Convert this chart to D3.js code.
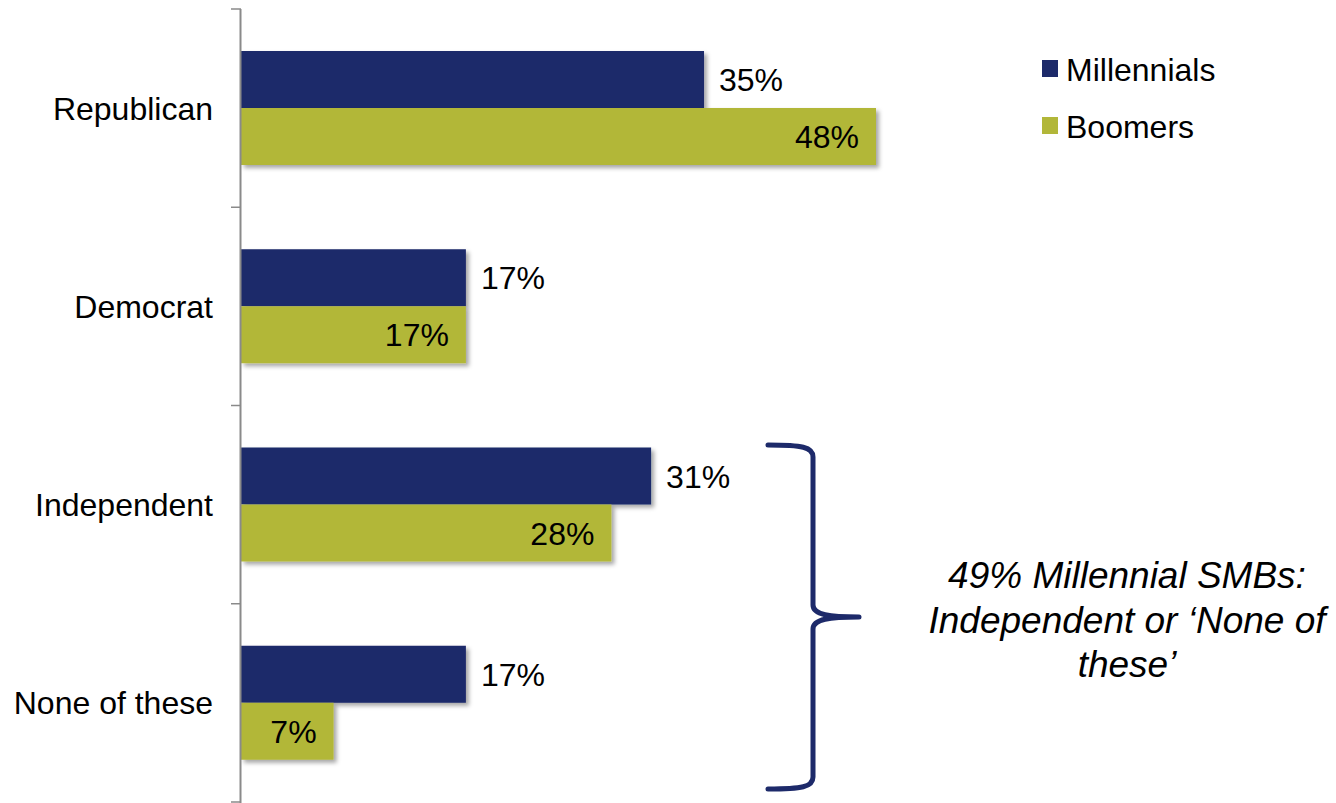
<!DOCTYPE html>
<html>
<head>
<meta charset="utf-8">
<script src="https://cdn.jsdelivr.net/npm/d3@7"></script>
<style>
  html, body { margin: 0; padding: 0; background: #fff; }
  svg { display: block; }
  text { font-family: "Liberation Sans", Arial, sans-serif; fill: #000; }
</style>
</head>
<body>
<svg id="chart" width="1336" height="803"></svg>
<script>
// Party affiliation of small-business owners, by generation
const categories = ["Republican", "Democrat", "Independent", "None of these"];
const seriesNames = ["Millennials", "Boomers"];
const millennials = [35, 17, 31, 17];
const boomers = [48, 17, 28, 7];
const colors = ["#1d2a6a", "#b2b739"];
const noteLines = ["49% Millennial SMBs:", "Independent or \u2018None of", "these\u2019"];

const svg = d3.select("#chart");
const W = 1336, H = 803;

const axisX = 241;
const x = d3.scaleLinear().domain([0, 48]).range([axisX, 876]);
const y = d3.scaleBand().domain(categories).range([9, 802]).padding(0);
const inner = d3.scaleBand().domain(seriesNames)
  .range([42, 42 + 114]).padding(0);

// soft drop shadow under the bars
const defs = svg.append("defs");
const f = defs.append("filter").attr("id", "shadow")
  .attr("x", "-5%").attr("y", "-20%").attr("width", "115%").attr("height", "160%");
f.append("feDropShadow").attr("dx", 3).attr("dy", 3)
  .attr("stdDeviation", 2.2).attr("flood-color", "#000").attr("flood-opacity", 0.35);

const rows = categories.map((c, i) => ({
  cat: c,
  vals: [
    { s: seriesNames[0], v: millennials[i] },
    { s: seriesNames[1], v: boomers[i] }
  ]
}));

const g = svg.append("g");
const groups = g.selectAll("g.cat").data(rows).join("g")
  .attr("class", "cat")
  .attr("transform", d => `translate(0,${y(d.cat)})`);

groups.selectAll("rect").data(d => d.vals).join("rect")
  .attr("x", axisX)
  .attr("y", d => inner(d.s))
  .attr("width", d => x(d.v) - axisX)
  .attr("height", inner.bandwidth())
  .attr("fill", (d, i) => colors[i])
  .attr("filter", "url(#shadow)");

// value labels: outside for Millennials, inside for Boomers
groups.selectAll("text.val").data(d => d.vals).join("text")
  .attr("class", "val")
  .attr("x", (d, i) => i === 0 ? x(d.v) + 15 : x(d.v) - 17)
  .attr("y", d => inner(d.s) + inner.bandwidth() / 2)
  .attr("dy", "0.36em")
  .attr("text-anchor", (d, i) => i === 0 ? "start" : "end")
  .style("font-size", "32px")
  .text(d => d.v + "%");

// category axis with ticks on band boundaries
const ax = svg.append("g").attr("class", "axis");
ax.append("line")
  .attr("x1", axisX - 0.5).attr("x2", axisX - 0.5)
  .attr("y1", y.range()[0]).attr("y2", H)
  .attr("stroke", "#8a8a8a").attr("stroke-width", 2);
const bounds = categories.map(c => y(c)).concat([y.range()[1]]);
ax.selectAll("line.tick").data(bounds).join("line")
  .attr("class", "tick")
  .attr("x1", axisX - 10).attr("x2", axisX)
  .attr("y1", d => d).attr("y2", d => d)
  .attr("stroke", "#8a8a8a").attr("stroke-width", 1.5);
ax.selectAll("text").data(categories).join("text")
  .attr("x", 213)
  .attr("y", d => y(d) + y.bandwidth() / 2)
  .attr("dy", "0.36em")
  .attr("text-anchor", "end")
  .style("font-size", "32px")
  .text(d => d);

// legend
const lg = svg.append("g").attr("transform", "translate(1042,60)");
const li = lg.selectAll("g").data(seriesNames).join("g")
  .attr("transform", (d, i) => `translate(0,${i * 57})`);
li.append("rect").attr("width", 16).attr("height", 17)
  .attr("fill", (d, i) => colors[i]);
li.append("text").attr("x", 24).attr("y", 9).attr("dy", "0.36em")
  .style("font-size", "32px").text(d => d);

// brace grouping Independent + None of these
const bx = 813, bTop = 445, bMid = 617, bBot = 789, bTip = 859;
const brace = d3.path();
brace.moveTo(768, bTop);
brace.bezierCurveTo(802, bTop, bx, bTop + 2, bx, bTop + 12);
brace.lineTo(bx, bMid - 12);
brace.bezierCurveTo(bx, bMid - 2, 830, bMid, bTip, bMid);
brace.moveTo(bTip, bMid);
brace.bezierCurveTo(830, bMid, bx, bMid + 2, bx, bMid + 12);
brace.lineTo(bx, bBot - 12);
brace.bezierCurveTo(bx, bBot - 2, 802, bBot, 768, bBot);
svg.append("path").attr("d", brace.toString())
  .attr("fill", "none").attr("stroke", "#1d2a6a")
  .attr("stroke-width", 5).attr("stroke-linecap", "round");

// note beside the brace
svg.append("g").selectAll("text").data(noteLines).join("text")
  .attr("x", 1127)
  .attr("y", (d, i) => 588 + i * 44.5)
  .attr("text-anchor", "middle")
  .style("font-size", "37px")
  .style("font-style", "italic")
  .text(d => d);
</script>
</body>
</html>
